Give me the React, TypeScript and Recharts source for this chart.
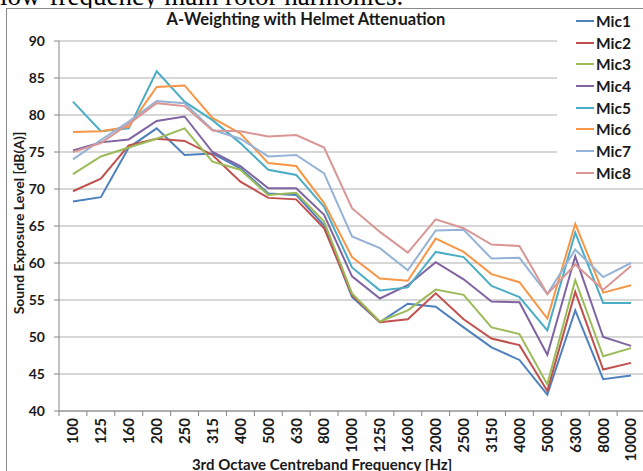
import { LineChart, Line, XAxis, YAxis, CartesianGrid, Legend } from "recharts"

const freqs = ["100", "125", "160", "200", "250", "315", "400", "500", "630", "800", "1000", "1250", "1600", "2000", "2500", "3150", "4000", "5000", "6300", "8000", "10000"]

const mic1 = [68.3, 68.9, 75.6, 78.2, 74.6, 74.8, 72.8, 69.4, 69.2, 65.1, 55.4, 52.0, 54.5, 54.1, 51.3, 48.6, 46.9, 42.2, 53.6, 44.3, 44.8]
const mic2 = [69.7, 71.4, 75.9, 76.8, 76.5, 74.6, 71.0, 68.8, 68.6, 64.7, 55.7, 52.0, 52.4, 55.9, 52.4, 49.8, 48.9, 42.7, 56.1, 45.6, 46.5]
const mic3 = [72.0, 74.4, 75.6, 76.8, 78.2, 73.7, 72.6, 69.2, 69.5, 65.6, 55.9, 52.1, 53.6, 56.4, 55.7, 51.3, 50.4, 43.6, 57.7, 47.4, 48.5]
const mic4 = [75.2, 76.3, 76.7, 79.2, 79.8, 75.0, 73.1, 70.1, 70.1, 66.5, 58.2, 55.2, 57.0, 60.1, 57.8, 54.8, 54.7, 47.6, 60.9, 50.0, 48.8]
const mic5 = [81.8, 77.8, 78.2, 85.9, 81.8, 79.3, 76.2, 72.6, 71.9, 67.6, 59.4, 56.3, 56.7, 61.5, 60.8, 56.9, 55.4, 50.9, 64.1, 54.6, 54.6]
const mic6 = [77.7, 77.8, 78.4, 83.8, 84.0, 79.6, 77.5, 73.5, 73.1, 68.1, 60.8, 57.9, 57.6, 63.3, 61.5, 58.5, 57.4, 52.5, 65.3, 56.0, 57.0]
const mic7 = [74.0, 76.6, 79.1, 81.9, 81.6, 78.0, 76.8, 74.4, 74.6, 72.1, 63.6, 62.0, 59.0, 64.4, 64.5, 60.6, 60.7, 55.8, 61.8, 58.1, 60.0]
const mic8 = [75.0, 76.2, 78.8, 81.6, 81.2, 77.9, 77.8, 77.1, 77.3, 75.6, 67.4, 64.2, 61.4, 65.9, 64.7, 62.5, 62.3, 55.8, 59.8, 56.4, 59.6]

const seriesNames = ["Mic1", "Mic2", "Mic3", "Mic4", "Mic5", "Mic6", "Mic7", "Mic8"]
const seriesValues = [mic1, mic2, mic3, mic4, mic5, mic6, mic7, mic8]
const colors = ["#4F81BD", "#C0504D", "#9BBB59", "#8064A2", "#4BACC6", "#F79646", "#95B3D7", "#D99694"]
const yTicks = [40, 45, 50, 55, 60, 65, 70, 75, 80, 85, 90]

const data = freqs.map((f, i) => {
  const row: Record<string, string | number> = { freq: f }
  seriesNames.forEach((name, s) => {
    row[name] = seriesValues[s][i]
  })
  return row
})

const FONT = "Lato, 'Open Sans', sans-serif"
const AXIS_GREY = "#868686"
const HALF_STEP = 13.95

function FreqTick(props: any) {
  const { x, y, payload, index } = props
  return (
    <g>
      <line x1={x - HALF_STEP} y1={y - 7} x2={x - HALF_STEP} y2={y - 2} stroke={AXIS_GREY} />
      {index === freqs.length - 1 && (
        <line x1={x + HALF_STEP} y1={y - 7} x2={x + HALF_STEP} y2={y - 2} stroke={AXIS_GREY} />
      )}
      <text
        x={x}
        y={y}
        transform={`rotate(-90, ${x}, ${y})`}
        textAnchor="end"
        dy="0.36em"
        fontFamily={FONT}
        fontWeight="bold"
        fontSize={15}
        fill="#1a1a1a"
      >
        {payload.value}
      </text>
    </g>
  )
}

function LegendBox() {
  return (
    <div style={{ background: "#fff", width: 90, height: 174, paddingTop: 1, boxSizing: "border-box" }}>
      {seriesNames.map((name, i) => (
        <div key={name} style={{ display: "flex", alignItems: "center", height: 21.7, paddingLeft: 19 }}>
          <span style={{ display: "inline-block", width: 18, height: 2, background: colors[i] }} />
          <span style={{ marginLeft: 2, fontFamily: FONT, fontWeight: "bold", fontSize: 15.5, color: "#1a1a1a" }}>{name}</span>
        </div>
      ))}
    </div>
  )
}

export default function App() {
  return (
    <div style={{ position: "absolute", left: 0, top: 0, width: 643, height: 471, overflow: "hidden", background: "#fff" }}>
      <div
        style={{
          position: "absolute",
          left: 0,
          top: -17,
          fontFamily: "'Liberation Serif', serif",
          fontSize: 27,
          lineHeight: "27px",
          whiteSpace: "nowrap",
          color: "#000",
        }}
      >
        low-frequency main rotor harmonics.
      </div>
      <div
        style={{
          position: "absolute",
          left: 6,
          top: 8,
          width: 700,
          height: 500,
          border: "1px solid #8a8a8a",
          background: "#fff",
        }}
      />
      <div style={{ position: "absolute", left: 0, top: 0 }}>
        <LineChart width={645} height={471} data={data} margin={{ top: 41, right: 0, bottom: 0, left: 0 }}>
          <CartesianGrid vertical={false} stroke="#cacaca" strokeWidth={1.5} />
          <XAxis
            dataKey="freq"
            height={60}
            padding={{ left: HALF_STEP, right: HALF_STEP }}
            interval={0}
            tickLine={false}
            tickSize={5}
            tickMargin={2}
            axisLine={{ stroke: AXIS_GREY }}
            tick={<FreqTick />}
          />
          <YAxis
            width={59}
            domain={[40, 90]}
            ticks={yTicks}
            interval={0}
            tickSize={5}
            tickMargin={9}
            axisLine={{ stroke: AXIS_GREY }}
            tickLine={{ stroke: AXIS_GREY }}
            tick={{ fontFamily: FONT, fontWeight: "bold", fontSize: 14, fill: "#1a1a1a" }}
          />
          <Legend
            layout="vertical"
            align="center"
            verticalAlign="middle"
            content={<LegendBox />}
            wrapperStyle={{ position: "absolute", left: 557, top: 9, width: 90, height: 174 }}
          />
          {seriesNames.map((name, i) => (
            <Line
              key={name}
              type="linear"
              dataKey={name}
              stroke={colors[i]}
              strokeWidth={2}
              dot={false}
              isAnimationActive={false}
            />
          ))}
        </LineChart>
      </div>
      <div
        style={{
          position: "absolute",
          left: 0,
          width: 612,
          top: 9,
          textAlign: "center",
          fontFamily: FONT,
          fontWeight: "bold",
          fontSize: 16.5,
          color: "#1a1a1a",
        }}
      >
        A-Weighting with Helmet Attenuation
      </div>
      <div
        style={{
          position: "absolute",
          left: 18,
          top: 223,
          transform: "translate(-50%, -50%) rotate(-90deg)",
          whiteSpace: "nowrap",
          fontFamily: FONT,
          fontWeight: "bold",
          fontSize: 14,
          color: "#1a1a1a",
        }}
      >
        Sound Exposure Level [dB(A)]
      </div>
      <div
        style={{
          position: "absolute",
          left: 0,
          width: 644,
          top: 455,
          textAlign: "center",
          fontFamily: FONT,
          fontWeight: "bold",
          fontSize: 15,
          color: "#1a1a1a",
          whiteSpace: "nowrap",
        }}
      >
        3rd Octave Centreband Frequency [Hz]
      </div>
    </div>
  )
}
